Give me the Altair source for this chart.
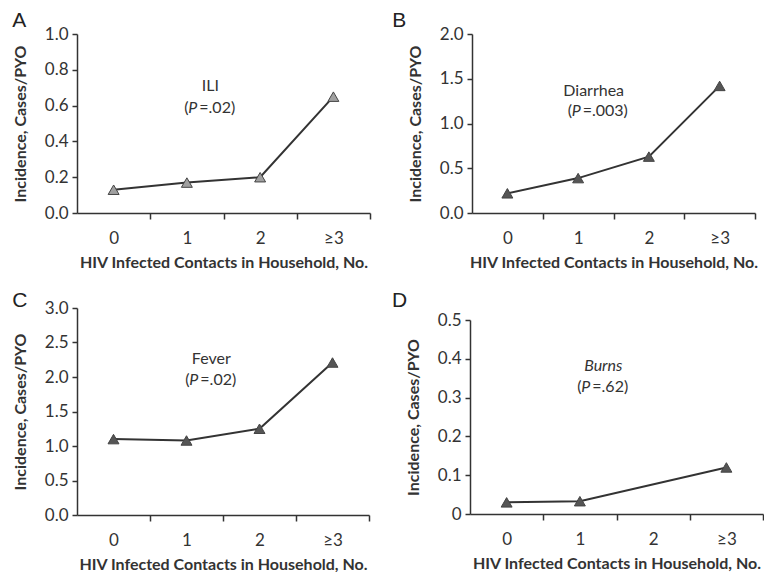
import altair as alt
import pandas as pd

# ---- data ----
x_codes = [0, 1, 2, 3]
x_labels = ["0", "1", "2", "≥3"]
ili = [0.13, 0.17, 0.20, 0.65]
diarrhea = [0.22, 0.39, 0.63, 1.42]
fever = [1.10, 1.08, 1.25, 2.21]
burns = [0.030, 0.033, None, 0.12]

panel_letters = ["A", "B", "C", "D"]
outcome_names = ["ILI", "Diarrhea", "Fever", "Burns"]
p_values = [" =.02)", " =.003)", " =.02)", " =.62)"]
y_max = [1.0, 2.0, 3.0, 0.5]
y_step = [0.2, 0.5, 0.5, 0.1]
ann_x = [1.32, 1.22, 1.34, 1.32]
ann_y1 = [0.71, 1.36, 2.26, 0.381]
ann_y2 = [0.587, 1.14, 1.96, 0.327]

FONT = "Lato"
DARK = "#333333"


def letter_title(letter, dx, off):
    return alt.TitleParams(letter, anchor="start", dx=dx, fontSize=21,
                           fontWeight=300, font="Liberation Sans", color="#222222",
                           offset=off)


def panel(i, vals, w, h, ytitle, fill, title=None, italic_name=False, zero_plain=False):
    rows = [{"x": x, "v": v} for x, v in zip(x_codes, vals) if v is not None]
    df = pd.DataFrame(rows)
    xs = alt.Scale(domain=[-0.5, 3.5], nice=False, zero=False)
    ys = alt.Scale(domain=[0, y_max[i]], nice=False)
    n = int(round(y_max[i] / y_step[i]))
    yvals = [round(k * y_step[i], 2) for k in range(n + 1)]
    lab_expr = "datum.value == 0 ? '0' : format(datum.value, '.1f')" if zero_plain else "format(datum.value, '.1f')"
    xaxis = alt.Axis(
        values=[0, 0.5, 1, 1.5, 2, 2.5, 3, 3.5], tickCount=20,
        labelExpr="datum.value % 1 == 0 ? (datum.value == 3 ? '≥3' : format(datum.value, 'd')) : ''",
        tickOpacity={"condition": {"test": "datum.value % 1 == 0", "value": 0}, "value": 1},
        labelFlush=False, labelOverlap=False, grid=False,
        title="HIV Infected Contacts in Household, No.",
        tickSize=6, labelPadding=11, titlePadding=8,
    )
    yaxis = alt.Axis(values=yvals, tickCount=20, labelExpr=lab_expr, grid=False, title=ytitle,
                     labelOverlap=False, labelFlush=False,
                     tickSize=5, labelPadding=4, titlePadding=16)
    base = alt.Chart(df)
    line = base.mark_line(color=DARK, strokeWidth=2).encode(
        x=alt.X("x:Q", scale=xs, axis=xaxis),
        y=alt.Y("v:Q", scale=ys, axis=yaxis),
    )
    pts = base.mark_point(shape="triangle-up", filled=True, size=120, fill=fill,
                          stroke="#444444", strokeWidth=1, opacity=1).encode(
        x=alt.X("x:Q", scale=xs), y=alt.Y("v:Q", scale=ys))
    a1 = pd.DataFrame({"x": [ann_x[i]], "y": [ann_y1[i]], "t": [outcome_names[i]]})
    a2 = pd.DataFrame({"x": [ann_x[i]], "y": [ann_y2[i]]})
    name = alt.Chart(a1).mark_text(font=FONT, fontSize=16, color=DARK,
                                   fontStyle="italic" if italic_name else "normal").encode(
        x=alt.X("x:Q", scale=xs), y=alt.Y("y:Q", scale=ys), text="t:N")
    pieces = []
    for txt, dx, style in [("(", -26, "normal"), ("P", -22, "italic"), (p_values[i], -11, "normal")]:
        pieces.append(alt.Chart(a2).mark_text(font=FONT, fontSize=16, color=DARK, align="left",
                                              dx=dx, fontStyle=style, text=txt).encode(
            x=alt.X("x:Q", scale=xs), y=alt.Y("y:Q", scale=ys)))
    ch = alt.layer(line, pts, name, *pieces)
    if title is not None:
        return ch.properties(width=w, height=h, title=title)
    return ch.properties(width=w, height=h)


pA = panel(0, ili, 293, 179, "Incidence, Cases/PYO", "#a0a0a0", title=letter_title("A", 0, -6))
pB = panel(1, diarrhea, 283, 179, "Incidence,  Cases/PYO", "#555555", title=letter_title("B", -15, -6))
pC = panel(2, fever, 292, 207, "Incidence, Cases/PYO", "#555555", title=letter_title("C", 0, -12))
pD = panel(3, burns, 293, 194, "Incidence, Cases/PYO", "#555555", italic_name=True, zero_plain=True)

spacer = alt.Chart(pd.DataFrame({"v": [0]})).mark_point(opacity=0, size=0).encode(
    y=alt.value(0)).properties(width=293, height=3, title=letter_title("D", -78, -3))

chart = alt.vconcat(
    alt.hconcat(pA, pB, spacing=21),
    alt.hconcat(pC, alt.vconcat(spacer, pD, spacing=0), spacing=22),
    spacing=20,
).properties(padding={"left": 4, "top": 2, "right": 0, "bottom": 0}).configure_view(
    stroke=None
).configure_axis(
    labelFont=FONT, titleFont=FONT, labelFontSize=17, titleFontSize=16,
    labelColor=DARK, titleColor=DARK, titleFontWeight="bold",
    domainColor=DARK, tickColor=DARK, domainWidth=1.5, tickWidth=1.5,
)

chart.save("out.html", embed_options={"renderer": "svg", "actions": False})
